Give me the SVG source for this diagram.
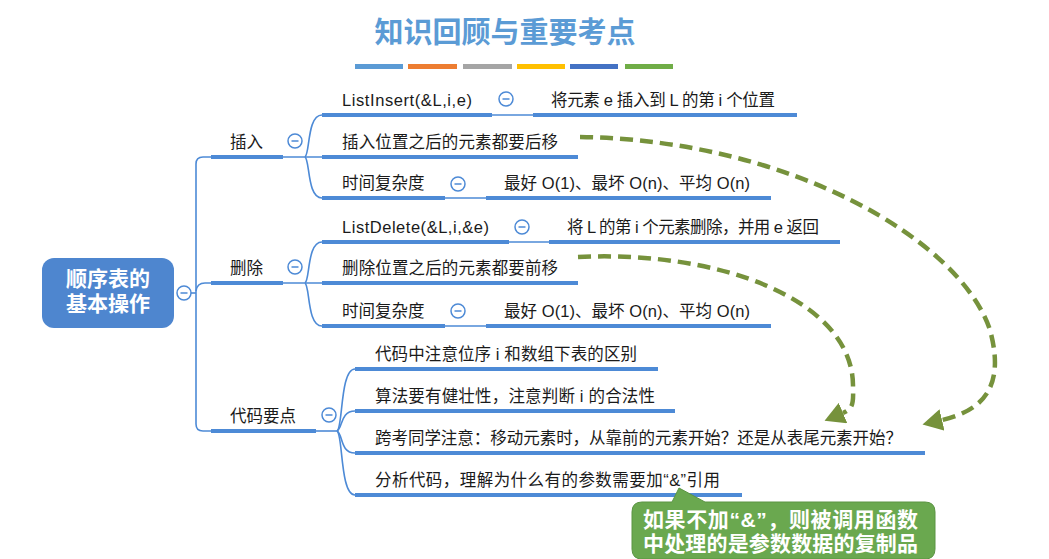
<svg xmlns="http://www.w3.org/2000/svg" width="1049" height="559" viewBox="0 0 1049 559">
<style>
text{font-family:"Liberation Sans","Noto Sans CJK SC",sans-serif;}
.t{font-size:16.5px;fill:#1a1a1a;}
.ct{font-size:21px;font-weight:bold;fill:#fff;}
.q{font-family:"Noto Sans CJK SC",sans-serif;}
.ul{stroke:#4d8ad6;stroke-width:4;fill:none;}
.ln{stroke:#4d8ad6;stroke-width:1.6;fill:none;}
.cb{fill:#fff;stroke:#4d8ad6;stroke-width:1.5;}
.cm{stroke:#4d8ad6;stroke-width:1.5;}
.da{stroke:#76923c;stroke-width:4.5;fill:none;stroke-dasharray:13 7;}
</style>
<defs>
<marker id="ah" viewBox="0 0 20 22" markerWidth="20" markerHeight="22" refX="0" refY="11" orient="auto" markerUnits="userSpaceOnUse">
<path d="M0,0 L20,11 L0,22 z" fill="#76923c"/>
</marker>
<g id="minus"><circle r="7" class="cb"/><line x1="-3.5" y1="0" x2="3.5" y2="0" class="cm"/></g>
</defs>
<rect width="1049" height="559" fill="#fff"/>

<g id="title">
<text x="505" y="43" text-anchor="middle" style="font-family:'Noto Sans CJK SC',sans-serif;font-size:29px;font-weight:bold;fill:#5b9bd5">知识回顾与重要考点</text>
<rect x="355" y="64" width="48" height="5" fill="#5b9bd5"/>
<rect x="408" y="64" width="49" height="5" fill="#ed7d31"/>
<rect x="463" y="64" width="49" height="5" fill="#a5a5a5"/>
<rect x="517" y="64" width="48" height="5" fill="#ffc000"/>
<rect x="570" y="64" width="48" height="5" fill="#4472c4"/>
<rect x="625" y="64" width="48" height="5" fill="#70ad47"/>
</g>

<g id="connectors">
<path class="ln" d="M191,293 L196,293"/>
<path class="ln" d="M211,157 L203,157 Q196,157 196,164 L196,424 Q196,431 203,431 L211,431"/>
<path class="ln" d="M196,291 Q197,283 205,283 L211,283"/>
<path class="ln" d="M283,157 L322,157"/>
<path class="ln" d="M305,157 C310,154 307,115 322,115"/>
<path class="ln" d="M305,157 C310,160 307,198 322,198"/>
<path class="ln" d="M492,115 L533,115"/>
<path class="ln" d="M445,198 L486,198"/>
<path class="ln" d="M283,283 L322,283"/>
<path class="ln" d="M305,283 C310,280 307,242 322,242"/>
<path class="ln" d="M305,283 C310,286 307,326 322,326"/>
<path class="ln" d="M509,242 L549,242"/>
<path class="ln" d="M445,326 L486,326"/>
<path class="ln" d="M316,431 L337,431"/>
<path class="ln" d="M337,431 C343,428 340,369 355,369"/>
<path class="ln" d="M337,431 C343,428 340,411 355,411"/>
<path class="ln" d="M337,431 C343,434 340,453 355,453"/>
<path class="ln" d="M337,431 C343,434 340,495 355,495"/>
<path class="da" marker-end="url(#ah)" d="M580,137 C790,140 960,240 990,330 C1005,385 985,410 942,420"/>
<path class="da" marker-end="url(#ah)" d="M578,257 C720,250 852,300 853,385 C853,400 855,408 843,413"/>
</g>

<g id="root">
<rect x="42" y="258" width="132" height="70" rx="12" fill="#4e86cf"/>
<text x="108" y="286" text-anchor="middle" style="font-size:21px;font-weight:bold;fill:#fff">顺序表的</text>
<text x="108" y="311" text-anchor="middle" style="font-size:21px;font-weight:bold;fill:#fff">基本操作</text>
<use href="#minus" x="184" y="293"/>
</g>

<g id="insert">
<path class="ul" d="M211,157 L283,157"/>
<text class="t" x="230" y="148">插入</text>
<use href="#minus" x="295" y="141"/>
</g>
<g id="insert-listinsert">
<path class="ul" d="M322,115 L492,115"/>
<text class="t" x="342" y="106" textLength="130">ListInsert(&amp;L,i,e)</text>
<use href="#minus" x="506" y="99"/>
</g>
<g id="insert-desc">
<path class="ul" d="M533,115 L797,115"/>
<text class="t" x="551" y="106" textLength="224">将元素 e 插入到 L 的第 i 个位置</text>
</g>
<g id="insert-move">
<path class="ul" d="M322,157 L578,157"/>
<text class="t" x="342" y="148" textLength="216">插入位置之后的元素都要后移</text>
</g>
<g id="insert-time">
<path class="ul" d="M322,198 L445,198"/>
<text class="t" x="342" y="189">时间复杂度</text>
<use href="#minus" x="458" y="184"/>
</g>
<g id="insert-time-val">
<path class="ul" d="M486,198 L771,198"/>
<text class="t" x="504" y="189" textLength="246">最好 O(1)、最坏 O(n)、平均 O(n)</text>
</g>

<g id="delete">
<path class="ul" d="M211,283 L283,283"/>
<text class="t" x="230" y="274">删除</text>
<use href="#minus" x="295" y="267"/>
</g>
<g id="delete-listdelete">
<path class="ul" d="M322,242 L509,242"/>
<text class="t" x="342" y="233" textLength="147">ListDelete(&amp;L,i,&amp;e)</text>
<use href="#minus" x="522" y="227"/>
</g>
<g id="delete-desc">
<path class="ul" d="M549,242 L840,242"/>
<text class="t" x="567" y="233" textLength="252">将 L 的第 i 个元素删除，并用 e 返回</text>
</g>
<g id="delete-move">
<path class="ul" d="M322,283 L578,283"/>
<text class="t" x="342" y="274" textLength="216">删除位置之后的元素都要前移</text>
</g>
<g id="delete-time">
<path class="ul" d="M322,326 L445,326"/>
<text class="t" x="342" y="317">时间复杂度</text>
<use href="#minus" x="458" y="311"/>
</g>
<g id="delete-time-val">
<path class="ul" d="M486,326 L771,326"/>
<text class="t" x="504" y="317" textLength="246">最好 O(1)、最坏 O(n)、平均 O(n)</text>
</g>

<g id="code">
<path class="ul" d="M211,431 L316,431"/>
<text class="t" x="230" y="422">代码要点</text>
<use href="#minus" x="329" y="415"/>
</g>
<g id="code-1">
<path class="ul" d="M355,369 L658,369"/>
<text class="t" x="375" y="360" textLength="262">代码中注意位序 i 和数组下表的区别</text>
</g>
<g id="code-2">
<path class="ul" d="M355,411 L675,411"/>
<text class="t" x="375" y="402" textLength="280">算法要有健壮性，注意判断 i 的合法性</text>
</g>
<g id="code-3">
<path class="ul" d="M355,453 L925,453"/>
<text class="t" x="375" y="444" textLength="527">跨考同学注意：移动元素时，从靠前的元素开始？还是从表尾元素开始？</text>
</g>
<g id="code-4">
<path class="ul" d="M355,495 L742,495"/>
<text class="t" x="375" y="486" textLength="345">分析代码，理解为什么有的参数需要加“&amp;”引用</text>
</g>

<g id="callout">
<path d="M642,502 L672,502 L679,488 L705,502 L925,502 Q935,502 935,512 L935,549 Q935,559 925,559 L642,559 Q632,559 632,549 L632,512 Q632,502 642,502 z" fill="#6aa84f" stroke="#5b9443" stroke-width="1"/>
<text class="ct" x="643" y="527" textLength="275">如果不加“&amp;”，则被调用函数</text>
<text class="ct" x="643" y="551" textLength="275">中处理的是参数数据的复制品</text>
</g>
</svg>
